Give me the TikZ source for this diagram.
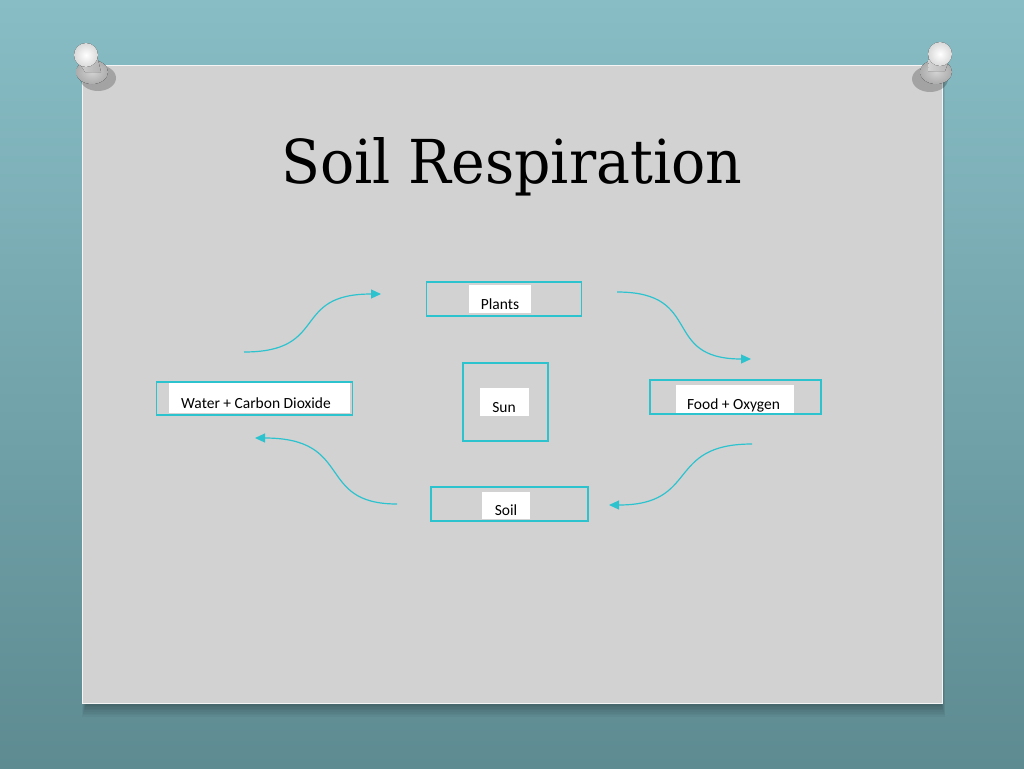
\documentclass[tikz,border=0pt]{standalone}
\usepackage{fontspec}
\setmainfont{Carlito}
\newfontfamily\titlefont{DejaVu Serif}
\usetikzlibrary{arrows.meta,shadows,calc}
\definecolor{cyanline}{HTML}{2CC3CF}
\definecolor{cardgrey}{HTML}{D2D2D2}
\definecolor{bgtop}{HTML}{88BDC5}
\definecolor{bgbot}{HTML}{5E8B92}
\newcommand{\lowtxt}[1]{\raisebox{-10pt}[0pt][0pt]{#1}}
\tikzset{
  framebox/.style={draw=cyanline, line width=1.8pt, inner sep=0pt},
  labelbox/.style={fill=white, inner sep=0pt, font=\fontsize{15.5}{17}\selectfont, text=black},
  flow/.style={draw=cyanline, line width=1.2pt, -{Triangle[length=10pt,width=9pt]}},
  pinhead/.style={inner color=white, outer color=gray!30, draw=none},
  pinbody/.style={left color=gray!35, right color=gray!60, draw=none},
  pinbase/.style={inner color=gray!35, outer color=gray!65, draw=none},
}
\begin{document}
\begin{tikzpicture}[x=1pt,y=-1pt]
\useasboundingbox (0,0) rectangle (1024,768);
% background
\shade[top color=bgtop, bottom color=bgbot] (0,0) rectangle (1024,768);
% card shadow
\foreach \i in {1,...,8}{
  \fill[black, opacity=0.035] (82-\i*0.5+4,66+\i*0.5) rectangle (943+\i*0.5-2,704+\i*1.6);
}
% card
\fill[cardgrey] (82,65) rectangle (943,704);
\draw[white!92!gray, line width=1.2pt] (82.6,65.6) rectangle (942.4,703.4);
% pins
\fill[black, opacity=0.22] (98,78) ellipse (18 and 13);
\fill[pinbase] (92,72) ellipse (16 and 12);
\fill[pinbody] (75,56) -- (97,56) -- (101,72) -- (85,72) -- cycle;
\fill[pinhead] (86,55) ellipse (12 and 12);
\fill[black, opacity=0.22] (930,79) ellipse (18 and 13);
\fill[pinbase] (936,72) ellipse (16 and 12);
\fill[pinbody] (929,55) -- (951,55) -- (945,71) -- (928,71) -- cycle;
\fill[pinhead] (940,54) ellipse (12 and 12);
% title
\node[anchor=base west, inner sep=0pt] (title) at (281,183)
  {\resizebox{461pt}{46pt}{\titlefont Soil Respiration}};
% frames
\node[framebox, minimum width=155pt, minimum height=34pt] (plants) at (504,299) {};
\node[framebox, minimum width=85pt, minimum height=78pt] (sun) at (505.5,402) {};
\node[framebox, minimum width=196pt, minimum height=33pt] (water) at (254.5,398.5) {};
\node[framebox, minimum width=171pt, minimum height=34pt] (food) at (735.5,397) {};
\node[framebox, minimum width=157pt, minimum height=34pt] (soil) at (509.5,504) {};
% labels
\node[labelbox, minimum width=62pt, minimum height=28pt] (plantslbl) at (500,299) {\lowtxt{Plants}};
\node[labelbox, minimum width=49pt, minimum height=28pt] (sunlbl) at (504,402) {\lowtxt{Sun}};
\node[labelbox, minimum width=181pt, minimum height=30pt] (waterlbl) at (259,398) {\lowtxt{Water + Carbon Dioxide}\hspace*{6pt}};
\node[labelbox, minimum width=118pt, minimum height=28pt] (foodlbl) at (735,399) {\lowtxt{Food + Oxygen}\hspace*{3pt}};
\node[labelbox, minimum width=48pt, minimum height=27pt] (soillbl) at (506,505.5) {\lowtxt{Soil}};
% arrow end coordinates
\coordinate (a1s) at (244,352); \coordinate (a1e) at (381,294);
\coordinate (a2s) at (617,292); \coordinate (a2e) at (751,359);
\coordinate (a3s) at (752,444); \coordinate (a3e) at (609,505);
\coordinate (a4s) at (397,504); \coordinate (a4e) at (255,438);
\draw[flow] (a1s) .. controls (330,352) and (290,294) .. (a1e);
\draw[flow] (a2s) .. controls (705,292) and (660,359) .. (a2e);
\draw[flow] (a3s) .. controls (665,444) and (700,505) .. (a3e);
\draw[flow] (a4s) .. controls (315,504) and (355,438) .. (a4e);
\end{tikzpicture}
\end{document}
